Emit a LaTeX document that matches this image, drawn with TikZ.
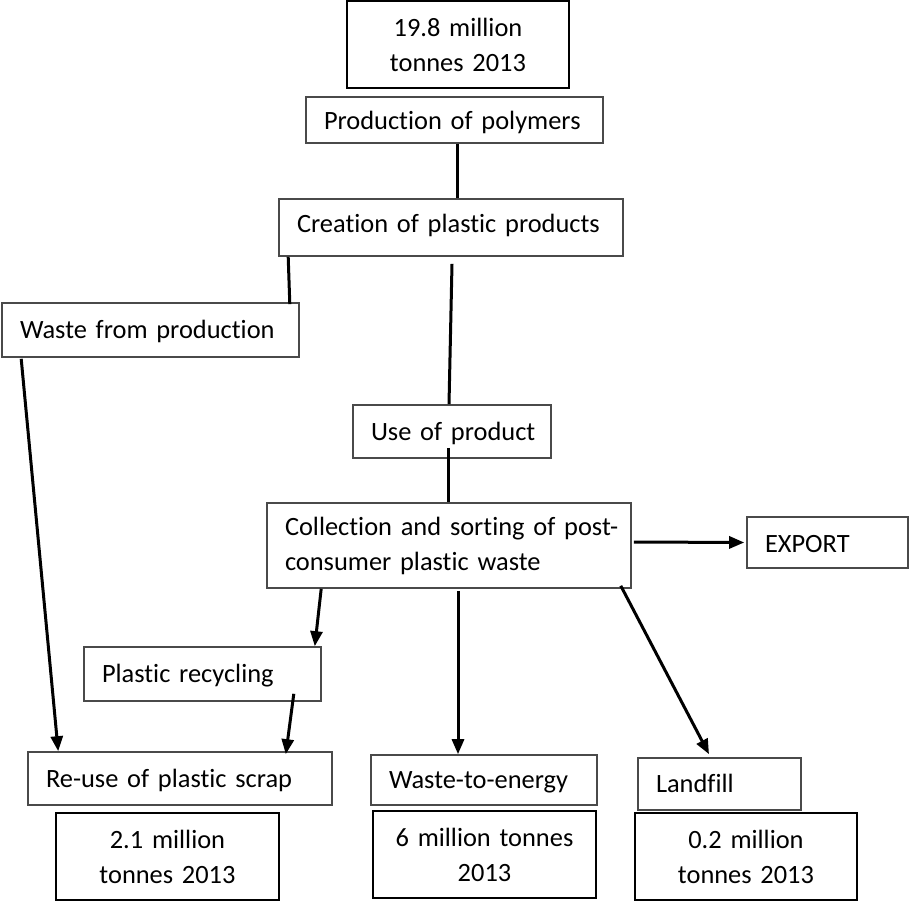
\documentclass[tikz,border=0pt]{standalone}
\usepackage{fontspec}
\setmainfont{Carlito}[Ligatures=NoCommon]
\usetikzlibrary{arrows.meta}
\setlength\parindent{0pt}
\newcommand\diagfont{\fontsize{26.4}{35}\selectfont\spaceskip=5.5pt\relax}
\definecolor{boxline}{HTML}{4A4A4A}
\tikzset{
  basebox/.style={rectangle, inner ysep=0pt, font=\diagfont, text=black},
  flowbox/.style={basebox, draw=boxline, line width=1.6pt, inner xsep=18pt, align=left},
  valbox/.style={basebox, draw=black, line width=2.6pt, inner xsep=4pt, align=center},
  conn/.style={line width=3pt, black},
  arr/.style={conn, -{Triangle[length=15pt,width=12pt]}},
}
\begin{document}
\begin{tikzpicture}[x=1pt,y=-1pt]
\useasboundingbox (0,0) rectangle (910,904);
% boxes
\node[valbox, minimum width=222pt, minimum height=87pt, text width=214pt] (top) at (458,44.5) {\mbox{19.8 million}\\\mbox{tonnes 2013}};
\node[flowbox, minimum width=297pt, minimum height=46pt, text width=261pt, text height=24pt, text depth=4pt] (prod) at (454.5,120) {\mbox{Production of polymers}};
\node[flowbox, minimum width=344pt, minimum height=57pt, text width=308pt, text height=15pt, text depth=4pt] (create) at (451,227.5) {\mbox{Creation of plastic products}};
\node[flowbox, minimum width=297pt, minimum height=54pt, text width=261pt, text height=20pt, text depth=4pt] (waste) at (150.5,330) {\mbox{Waste from production}};
\node[flowbox, minimum width=198pt, minimum height=53pt, text width=162pt, text height=21pt, text depth=4pt] (use) at (452,431.5) {\mbox{Use of product}};
\node[flowbox, minimum width=364pt, minimum height=85pt, text width=328pt] (collect) at (449,545.5) {\mbox{Collection and sorting of post-}\\\mbox{consumer plastic waste}};
\node[flowbox, minimum width=161pt, minimum height=51pt, text width=125pt, text height=23pt, text depth=4pt] (export) at (827.5,542.5) {\mbox{EXPORT}};
\node[flowbox, minimum width=237pt, minimum height=54pt, text width=201pt, text height=20pt, text depth=4pt] (recycle) at (202.5,674) {\mbox{Plastic recycling}};
\node[flowbox, minimum width=304pt, minimum height=53pt, text width=268pt, text height=21pt, text depth=4pt] (reuse) at (180,778.5) {\mbox{Re-use of plastic scrap}};
\node[flowbox, minimum width=226pt, minimum height=50pt, text width=190pt, text height=20pt, text depth=4pt] (wte) at (484,780) {\mbox{Waste-to-energy}};
\node[flowbox, minimum width=163pt, minimum height=52pt, text width=127pt, text height=20pt, text depth=4pt] (landfill) at (719.5,784) {\mbox{Landfill}};
\node[valbox, minimum width=223pt, minimum height=87pt, text width=215pt] (v21) at (167.5,856.5) {\mbox{2.1 million}\\\mbox{tonnes 2013}};
\node[valbox, minimum width=223pt, minimum height=87pt, text width=215pt] (v6) at (484.5,854.5) {\mbox{6 million tonnes}\\\mbox{2013}};
\node[valbox, minimum width=222pt, minimum height=87pt, text width=214pt] (v02) at (746,856.5) {\mbox{0.2 million}\\\mbox{tonnes 2013}};
% connectors
\draw[conn] ([xshift=2.5pt]prod.south) -- ([xshift=6pt]create.north);
\draw[conn] ([xshift=10pt]create.south west) -- ([xshift=-10pt,yshift=-2pt]waste.north east);
\draw[conn] ([xshift=1pt,yshift=-7pt]create.south) -- ([xshift=-3pt]use.north);
\draw[conn] ([xshift=-4pt,yshift=11pt]use.south) -- ([xshift=-1pt]collect.north);
\draw[arr] ([xshift=2pt,yshift=3.5pt]collect.east) -- ([xshift=-2pt]export.west);
\draw[arr] ([xshift=55pt]collect.south west) -- ([xshift=-7pt]recycle.north east);
\draw[arr] ([xshift=9pt,yshift=-2pt]collect.south) -- ([xshift=-26pt]wte.north);
\draw[arr] ([xshift=-11pt,yshift=3pt]collect.south east) -- ([xshift=-10.5pt,yshift=3pt]landfill.north);
\draw[arr] ([xshift=20pt,yshift=-1pt]waste.south west) -- ([xshift=31pt]reuse.north west);
\draw[arr] ([xshift=-28pt,yshift=8pt]recycle.south east) -- ([xshift=-47pt,yshift=-3pt]reuse.north east);
\end{tikzpicture}
\end{document}
